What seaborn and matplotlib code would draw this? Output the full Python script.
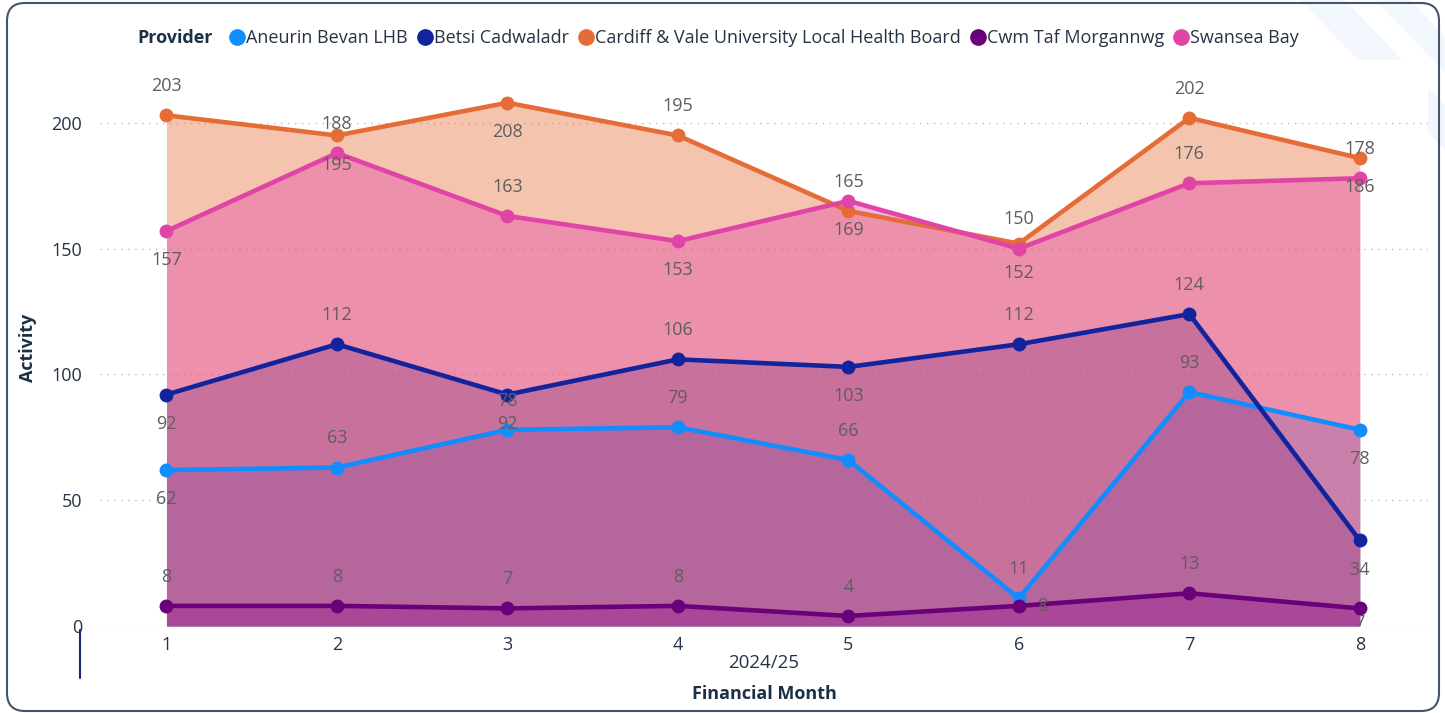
import matplotlib
matplotlib.use("Agg")
import numpy as np
import pandas as pd
import matplotlib.pyplot as plt
from matplotlib.lines import Line2D
from matplotlib.patches import FancyBboxPatch, Polygon
import seaborn as sns

# data
months = [1, 2, 3, 4, 5, 6, 7, 8]
providers = ["Aneurin Bevan LHB", "Betsi Cadwaladr",
             "Cardiff & Vale University Local Health Board",
             "Cwm Taf Morgannwg", "Swansea Bay"]
aneurin = [62, 63, 78, 79, 66, 11, 93, 78]
betsi = [92, 112, 92, 106, 103, 112, 124, 34]
cardiff = [203, 195, 208, 195, 165, 152, 202, 186]
cwm_taf = [8, 8, 7, 8, 4, 8, 13, 7]
swansea = [157, 188, 163, 153, 169, 150, 176, 178]
colors = ["#118DFF", "#12239E", "#E66C37", "#6B007B", "#E044A7"]

# where each data label sits: 1 above, -1 below, 0 to the right
label_side = [
    [-1, 1, 1, 1, 1, 1, 1, -1],
    [-1, 1, -1, 1, -1, 1, 1, -1],
    [1, -1, -1, 1, 1, -1, 1, -1],
    [1, 1, 1, 1, 1, 0, 1, -0.5],
    [-1, 1, 1, -1, -1, 1, 1, 1],
]

series = [aneurin, betsi, cardiff, cwm_taf, swansea]
df = pd.DataFrame({
    "month": months * len(providers),
    "activity": sum(series, []),
    "provider": np.repeat(providers, len(months)),
})

sns.set_style("white")
plt.rcParams["font.family"] = ["Open Sans", "DejaVu Sans"]
FS = 13

W, H = 1445, 713
fig = plt.figure(figsize=(W / 100, H / 100), dpi=100)
ax = fig.add_axes([100 / W, 1 - 626 / H, 1328 / W, 566 / H])

for vals, c in zip(series, colors):
    ax.fill_between(months, vals, 0, color=c, alpha=0.4, lw=0, zorder=1)

sns.lineplot(data=df, x="month", y="activity", hue="provider", hue_order=providers,
             palette=colors, marker="o", markersize=10, markeredgewidth=0,
             linewidth=3.3, legend=False, ax=ax, zorder=3)

for vals, sides in zip(series, label_side):
    for m, v, s in zip(months, vals, sides):
        off = (17, 0) if s == 0 else (0, 21 * s)
        ax.annotate(str(v), (m, v), xytext=off, textcoords="offset points",
                    ha="center", va="center", fontsize=FS, color="#605E5C",
                    zorder=5, annotation_clip=False, clip_on=True)

ax.set_xlim(0.61, 8.4)
ax.set_ylim(0, 225)
ax.set_xticks(months)
ax.set_yticks([0, 50, 100, 150, 200])
ax.yaxis.grid(True, linestyle=(0, (1, 4)), color="#BDBBB9", lw=1)
ax.xaxis.grid(False)
ax.set_axisbelow(True)
sns.despine(ax=ax, left=True, bottom=True)
ax.tick_params(axis="y", length=0, pad=13, labelsize=FS, labelcolor="#243447")
ax.tick_params(axis="x", length=0, pad=7, labelsize=FS, labelcolor="#243447")
ax.set_xlabel("")
ax.set_ylabel("")

txt = "#1B2F45"
fig.text(28 / W, 1 - 348 / H, "Activity", rotation=90, ha="center", va="center",
         fontsize=FS, fontweight="bold", color=txt)
fig.text(764 / W, 1 - 663 / H, "2024/25", ha="center", va="center",
         fontsize=13.5, color="#243447")
fig.text(764 / W, 1 - 694 / H, "Financial Month", ha="center", va="center",
         fontsize=FS, fontweight="bold", color=txt)

# legend row
fig.text(137 / W, 1 - 38 / H, "Provider", ha="left", va="center",
         fontsize=FS, fontweight="bold", color=txt)
handles = [Line2D([], [], marker="o", ls="", color=c, markersize=11) for c in colors]
leg = fig.legend(handles, providers, loc="center left",
                 bbox_to_anchor=(228 / W, 1 - 38 / H), ncol=5, frameon=False,
                 handletextpad=0.0, columnspacing=0.45, handlelength=1.0,
                 fontsize=FS, borderaxespad=0, borderpad=0)
for t in leg.get_texts():
    t.set_color("#243447")

# decorative stripes top right
for pts in [[(1300, 713), (1345, 713), (1445, 608), (1445, 563)],
            [(1375, 713), (1410, 713), (1445, 676), (1445, 641)]]:
    fig.add_artist(Polygon(pts, closed=True, transform=None, color="#F1F7FD",
                           lw=0, zorder=-1))

fig.add_artist(Line2D([80, 80], [H - 630, H - 678], transform=None,
                      color="#1A237E", lw=1.5))
fig.add_artist(FancyBboxPatch((7, 2), 1432, 708,
                              boxstyle="round,pad=0,rounding_size=18",
                              transform=None, fill=False, ec="#44556A", lw=1.5))

fig.savefig("out.png", dpi=100)
